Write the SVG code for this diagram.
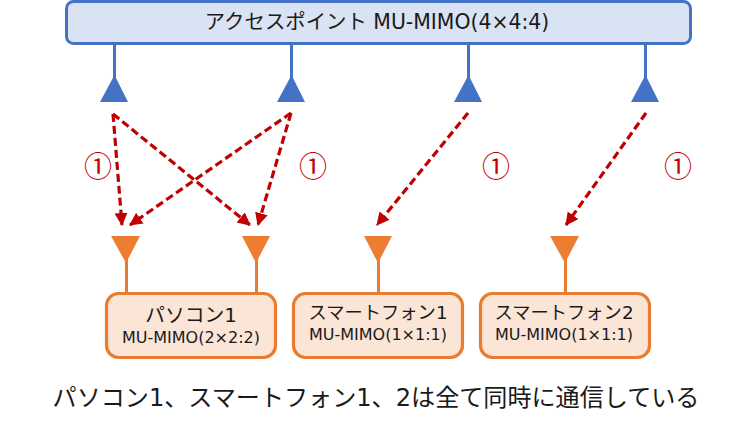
<svg xmlns="http://www.w3.org/2000/svg" width="756" height="430" viewBox="0 0 756 430">
<style>
text{font-family:"DejaVu Sans","Noto Sans CJK JP",sans-serif;fill:#1a1a1a;text-anchor:middle}
.ap{fill:#dae3f3;stroke:#4472c4;stroke-width:3}
.st{fill:#fbe5d6;stroke:#e97c30;stroke-width:3.200}
.bl{stroke:#4472c4;stroke-width:3;fill:none}
.or{stroke:#e97c30;stroke-width:3;fill:none}
.tb{fill:#4472c4}
.to{fill:#ed7d31}
.c{stroke:#c00000;stroke-width:3.200;stroke-dasharray:8 4;fill:none;marker-end:url(#a)}
.n{font-family:"Noto Sans CJK JP",sans-serif;font-size:28px;fill:#c00000}
.t{font-size:18.300px}
.s{font-size:16px}
</style>
<defs>
<marker id="a" markerUnits="userSpaceOnUse" markerWidth="14" markerHeight="14" refX="12" refY="6.500" orient="auto"><path d="M0 0L13 6.500L0 13Z" fill="#c00000"/></marker>
</defs>
<g id="access-point">
<rect class="ap" x="66.500" y="1.500" width="624" height="42" rx="7"/>
<text x="377" y="29" style="font-size:20.400px">アクセスポイント MU-MIMO(4×4:4)</text>
</g>
<g id="ap-antenna-1"><path class="bl" d="M114.500 44V80"/><path class="tb" d="M114.500 75L128 102H100Z"/></g>
<g id="ap-antenna-2"><path class="bl" d="M291.500 44V80"/><path class="tb" d="M291.500 75L305 102H277Z"/></g>
<g id="ap-antenna-3"><path class="bl" d="M468.500 44V80"/><path class="tb" d="M468.500 75L482 102H454Z"/></g>
<g id="ap-antenna-4"><path class="bl" d="M645.500 44V80"/><path class="tb" d="M645.500 75L659 102H631Z"/></g>
<g id="connectors">
<path class="c" d="M113 114L122 225"/>
<path class="c" d="M113 114L250 225"/>
<path class="c" d="M291 113L130 225"/>
<path class="c" d="M291 113L258 225"/>
<path class="c" d="M468 113L377 225"/>
<path class="c" d="M646 113L566 225"/>
</g>
<g id="labels">
<text class="n" x="98" y="177">①</text>
<text class="n" x="313" y="177">①</text>
<text class="n" x="496" y="177">①</text>
<text class="n" x="678" y="177">①</text>
</g>
<g id="sta-1">
<path class="or" d="M126.500 258V293M256.500 258V293"/>
<path class="to" d="M111 236H140L126 263Z"/><path class="to" d="M242 236H270L256 263Z"/>
<rect class="st" x="106.500" y="293.500" width="169" height="64" rx="12"/>
<text x="191" y="322" style="font-size:19.800px">パソコン1</text>
<text class="s" x="191" y="343">MU-MIMO(2×2:2)</text>
</g>
<g id="sta-2">
<path class="or" d="M378.500 258V293"/>
<path class="to" d="M364 236H392L378 263Z"/>
<rect class="st" x="293.500" y="293.500" width="169" height="64" rx="12"/>
<text class="t" x="378" y="319">スマートフォン1</text>
<text class="s" x="378" y="340">MU-MIMO(1×1:1)</text>
</g>
<g id="sta-3">
<path class="or" d="M565.500 258V293"/>
<path class="to" d="M550 236H579L565 263Z"/>
<rect class="st" x="480.500" y="293.500" width="169" height="64" rx="12"/>
<text class="t" x="564" y="319">スマートフォン2</text>
<text class="s" x="564" y="340">MU-MIMO(1×1:1)</text>
</g>
<text x="376" y="406" style="font-size:24.100px">パソコン1、スマートフォン1、2は全て同時に通信している</text>
</svg>
